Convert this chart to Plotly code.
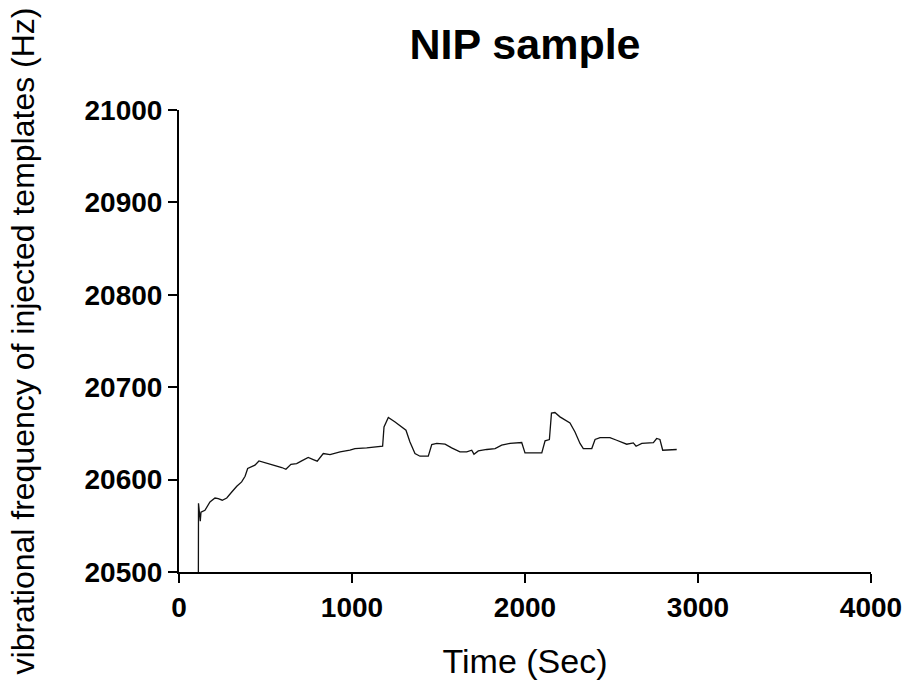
import plotly.graph_objects as go

time_sec = [112, 112.7, 123, 127, 150, 179, 208, 227, 250, 276, 305, 334, 362, 382, 397, 420, 439, 462,
            497, 545, 594, 618, 647, 680, 709, 747, 776, 799, 834, 873, 931, 988, 1017, 1085, 1177,
            1185, 1210, 1249, 1312, 1335, 1364, 1393, 1441, 1461, 1490, 1538, 1576, 1624, 1663, 1692,
            1705, 1730, 1779, 1827, 1865, 1913, 1981, 2000, 2097, 2116, 2141, 2153, 2173, 2202, 2260,
            2289, 2318, 2337, 2386, 2405, 2434, 2491, 2530, 2588, 2626, 2642, 2675, 2742, 2761, 2780,
            2796, 2877]
freq_hz = [20500, 20574.4, 20554.9, 20564.7, 20566.8, 20575.8, 20580.1, 20579.5, 20577.7, 20580.1,
           20586.6, 20592.8, 20597.5, 20603.6, 20612, 20613.7, 20615.6, 20620.2, 20618, 20615.6,
           20613.1, 20611.2, 20616.6, 20617.4, 20620.2, 20623.9, 20621.7, 20619.9, 20628.2, 20627.1,
           20629.9, 20631.8, 20633.6, 20634.3, 20636.1, 20657.0, 20667.2, 20662.4, 20653.5, 20640.8,
           20628.2, 20625.3, 20625.3, 20638, 20639.1, 20638.3, 20634.3, 20630, 20630, 20631.8, 20627.5,
           20631.0, 20632.6, 20633.6, 20637.2, 20639.1, 20640.1, 20628.9, 20628.9, 20641.9, 20643.4,
           20671.9, 20672.6, 20667.9, 20661.4, 20651.6, 20639.1, 20633.6, 20633.6, 20643.4, 20645.5,
           20645.5, 20642.6, 20638.3, 20639.7, 20636.1, 20639.1, 20640.1, 20644.5, 20643.4, 20631.8,
           20632.6]

x_ticks = [0, 1000, 2000, 3000, 4000]
y_ticks = [20500, 20600, 20700, 20800, 20900, 21000]

title_text = "NIP sample"
x_title = "Time (Sec)"
y_title = "vibrational frequency of injected templates (Hz)"

FONT = "Arial, 'Liberation Sans', sans-serif"

fig = go.Figure()
fig.add_trace(go.Scatter(x=time_sec, y=freq_hz, mode="lines",
                         line=dict(color="#111111", width=1.3), showlegend=False))

fig.update_layout(
    width=909, height=680,
    margin=dict(l=179, r=38, t=110, b=108, autoexpand=False),
    paper_bgcolor="white", plot_bgcolor="white",
    font=dict(family=FONT, color="black"),
    title=dict(text="<b>" + title_text + "</b>", x=0.5, xref="paper", y=0.935, yref="container",
               yanchor="middle", font=dict(size=43, family=FONT, color="black")),
)

fig.update_xaxes(range=[0, 4000], tickvals=x_ticks, ticktext=[f"<b>{v}</b>" for v in x_ticks],
                 showgrid=False, zeroline=False, showline=True, linecolor="black", linewidth=2,
                 ticks="outside", ticklen=9, tickwidth=2, tickcolor="black", automargin=False,
                 tickfont=dict(size=28, family=FONT, color="black"),
                 title=dict(text=x_title, font=dict(size=34, family=FONT, color="black"), standoff=40))
fig.update_yaxes(range=[20500, 21000], tickvals=y_ticks, ticktext=[f"<b>{v}</b>" for v in y_ticks],
                 showgrid=False, zeroline=False, showline=True, linecolor="black", linewidth=2,
                 ticks="outside", ticklen=9, tickwidth=2, tickcolor="black", automargin=False,
                 tickfont=dict(size=28, family=FONT, color="black"),
                 title=dict(text=y_title, font=dict(size=32, family=FONT, color="black"), standoff=40))

fig.write_html("out.html")
